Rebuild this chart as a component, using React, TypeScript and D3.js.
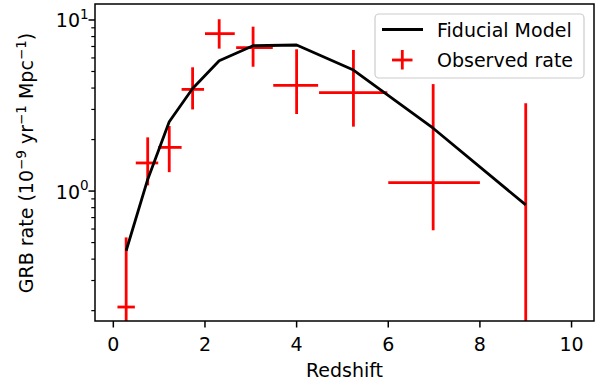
import React from 'react';
import * as d3 from 'd3';

// observed GRB rate with asymmetric error bars
const redshift = [0.28, 0.75, 1.22, 1.73, 2.31, 3.05, 4.0, 5.24, 6.98, 9.0];
const redshiftLow = [0.09, 0.49, 0.98, 1.49, 2.0, 2.68, 3.49, 4.49, 6.0, 9.0];
const redshiftHigh = [0.47, 0.98, 1.49, 1.98, 2.65, 3.48, 4.47, 5.98, 8.0, 9.0];
const observedRate = [0.21, 1.46, 1.8, 3.93, 8.32, 6.89, 4.15, 3.76, 1.12, 0.1];
const rateLow = [0.05, 1.08, 1.29, 3.0, 6.8, 5.33, 2.82, 2.38, 0.59, 0.05];
const rateHigh = [0.536, 2.06, 2.4, 5.29, 10.1, 9.14, 6.74, 6.68, 4.22, 3.26];

// fiducial model curve
const modelRedshift = [0.28, 0.75, 1.22, 1.73, 2.31, 3.05, 4.0, 5.24, 6.98, 9.0];
const modelRate = [0.448, 1.17, 2.54, 3.98, 5.78, 7.07, 7.14, 5.1, 2.33, 0.83];

const xTicks = [0, 2, 4, 6, 8, 10];
const yExponents = [0, 1];

const W = 603;
const H = 385;
const left = 95, right = 594, top = 4, bottom = 321;
const font = 'DejaVu Sans, sans-serif';
const fs = 19;

export default function App() {
  const x = d3.scaleLinear().domain([-0.4, 10.49]).range([left, right]);
  const y = d3.scaleLog().domain([0.174, 12.4]).range([bottom, top]);

  const minor: number[] = [];
  [0.1, 1].forEach(base => {
    for (let k = 2; k <= 9; k++) minor.push(base * k);
  });
  const minorTicks = minor.filter(v => v >= 0.174 && v <= 12.4);

  const line = d3.line<number>()
    .x((_, i) => x(modelRedshift[i]))
    .y(d => y(d));

  const red = '#ff0000';

  return (
    <svg width={W} height={H} style={{ position: 'absolute', left: 0, top: 0, background: 'white' }}
      fontFamily={font}>
      <defs>
        <clipPath id="plotArea">
          <rect x={left} y={top} width={right - left} height={bottom - top} />
        </clipPath>
      </defs>
      <rect x={0} y={0} width={W} height={H} fill="white" />

      <g clipPath="url(#plotArea)">
        {redshift.map((z, i) => (
          <g key={i} stroke={red} strokeWidth={2.8}>
            <line x1={x(z)} x2={x(z)} y1={y(rateLow[i])} y2={y(rateHigh[i])} />
            <line x1={x(redshiftLow[i])} x2={x(redshiftHigh[i])} y1={y(observedRate[i])} y2={y(observedRate[i])} />
          </g>
        ))}
        <path d={line(modelRate) || ''} fill="none" stroke="black" strokeWidth={2.8} strokeLinejoin="round" />
      </g>

      {/* axes frame */}
      <rect x={left} y={top} width={right - left} height={bottom - top} fill="none" stroke="black" strokeWidth={1.5} />

      {/* x ticks */}
      {xTicks.map(t => (
        <g key={t}>
          <line x1={x(t)} x2={x(t)} y1={bottom} y2={bottom + 6.5} stroke="black" strokeWidth={1.5} />
          <text x={x(t)} y={350.5} textAnchor="middle" fontSize={fs}>{t}</text>
        </g>
      ))}
      <text x={(left + right) / 2} y={376.5} textAnchor="middle" fontSize={fs}>Redshift</text>

      {/* y ticks */}
      {yExponents.map(e => (
        <g key={e}>
          <line x1={left - 6.5} x2={left} y1={y(Math.pow(10, e))} y2={y(Math.pow(10, e))} stroke="black" strokeWidth={1.5} />
          <text x={left - 15} y={y(Math.pow(10, e)) + 7.5} textAnchor="end" fontSize={fs}>10</text>
          <text x={left - 15} y={y(Math.pow(10, e)) - 1} fontSize={13.5}>{e}</text>
        </g>
      ))}
      {minorTicks.map(v => (
        <line key={v} x1={left - 3.7} x2={left} y1={y(v)} y2={y(v)} stroke="black" strokeWidth={1.2} />
      ))}
      <text transform={`translate(33,163) rotate(-90)`} textAnchor="middle" fontSize={fs}>
        GRB rate (10<tspan dy={-7} fontSize={13.5}>−9</tspan><tspan dy={7}> yr</tspan>
        <tspan dy={-7} fontSize={13.5}>−1</tspan><tspan dy={7}> Mpc</tspan>
        <tspan dy={-7} fontSize={13.5}>−1</tspan><tspan dy={7}>)</tspan>
      </text>

      {/* legend */}
      <rect x={375} y={14} width={209} height={64} rx={4} fill="white" fillOpacity={0.8} stroke="#cccccc" strokeWidth={1.2} />
      <line x1={382} x2={423} y1={29.5} y2={29.5} stroke="black" strokeWidth={2.8} />
      <text x={437} y={36.5} fontSize={fs}>Fiducial Model</text>
      <line x1={392} x2={412.5} y1={60} y2={60} stroke={red} strokeWidth={2.8} />
      <line x1={402.3} x2={402.3} y1={50} y2={69.5} stroke={red} strokeWidth={2.8} />
      <text x={437} y={67} fontSize={fs}>Observed rate</text>
    </svg>
  );
}
